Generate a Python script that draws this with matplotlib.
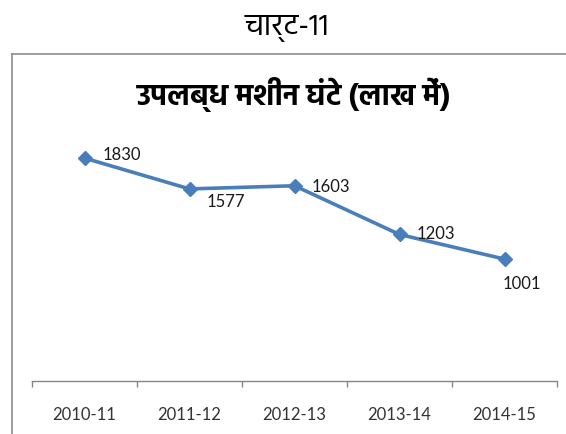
import matplotlib
matplotlib.use("Agg")
import matplotlib.pyplot as plt
from matplotlib import font_manager, ft2font
from matplotlib.lines import Line2D

# ---- data ----
categories = ["2010-11", "2011-12", "2012-13", "2013-14", "2014-15"]
values = [1830, 1577, 1603, 1203, 1001]
fig_title = "चार्ट-11"
chart_title = "उपलब्ध मशीन घंटे (लाख में)"

# label offsets (points) per data label
label_offsets = [(13, 3), (12, -9), (12, 0), (12, 1), (-1.5, -17)]

# ---- font discovery for Devanagari ----
def supported_families(ch):
    names = []
    for f in font_manager.fontManager.ttflist:
        if "wght" in f.fname or "wdth" in f.fname:
            continue
        try:
            ft = ft2font.FT2Font(f.fname)
            if ft.get_char_index(ord(ch)) and f.name not in names:
                names.append(f.name)
        except Exception:
            pass
    return names

avail = supported_families("च")
prefs = ["Noto Sans Devanagari", "Hind", "Mukta", "Karma", "Sarala", "Poppins", "Yantramanav"]
chosen = [p for p in prefs if p in avail]
dev_font = chosen[0] if chosen else (avail[0] if avail else "DejaVu Sans")
dev_fam = [dev_font, "Liberation Sans", "DejaVu Sans"]

W, H = 566, 435
fig = plt.figure(figsize=(W / 100, H / 100), dpi=100)

# outer chart border (gray)
border_col = "#8c8c8c"
fig.add_artist(Line2D([12 / W, 12 / W], [0, 1 - 55 / H], transform=fig.transFigure,
                      color=border_col, lw=1.2))
fig.add_artist(Line2D([12 / W, 1], [1 - 55 / H, 1 - 55 / H], transform=fig.transFigure,
                      color=border_col, lw=1.2))

# axes
left, right = 32 / W, 557 / W
bottom, top = 1 - 382 / H, 1 - 138.4 / H
ax = fig.add_axes([left, bottom, right - left, top - bottom])
x = list(range(len(categories)))
ax.plot(x, values, color="#4a7ebb", lw=2.6, marker="D", markersize=7.5,
        markerfacecolor="#4a7ebb", markeredgecolor="#4a7ebb", zorder=3)
ax.set_xlim(-0.5, len(categories) - 0.5)
ax.set_ylim(0, 2000)

for xi, v, (dx, dy) in zip(x, values, label_offsets):
    ax.annotate(str(v), (xi, v), xytext=(dx, dy), textcoords="offset points",
                ha="left", va="center", fontsize=12, family="Lato", color="#1a1a1a")

for s in ["top", "right", "left"]:
    ax.spines[s].set_visible(False)
ax.spines["bottom"].set_color("#868686")
ax.spines["bottom"].set_linewidth(1.0)
ax.set_yticks([])
ax.set_xticks([i - 0.5 for i in range(len(categories) + 1)])
ax.set_xticklabels([])
ax.set_xticks(x, minor=True)
ax.set_xticklabels(categories, minor=True, fontsize=12, family="Lato", color="#333333")
ax.tick_params(axis="x", which="major", direction="out", length=4, color="#868686", width=1.0)
ax.tick_params(axis="x", which="minor", length=0, pad=18)

fig.text(287 / W, 1 - 28 / H, fig_title, ha="center", va="center", fontsize=22,
         family=dev_fam, fontweight="normal", color="#000000")
fig.text(294 / W, 1 - 95 / H, chart_title, ha="center", va="center", fontsize=21.5,
         family=dev_fam, fontweight="bold", color="#000000")

fig.savefig("out.png", dpi=100)
